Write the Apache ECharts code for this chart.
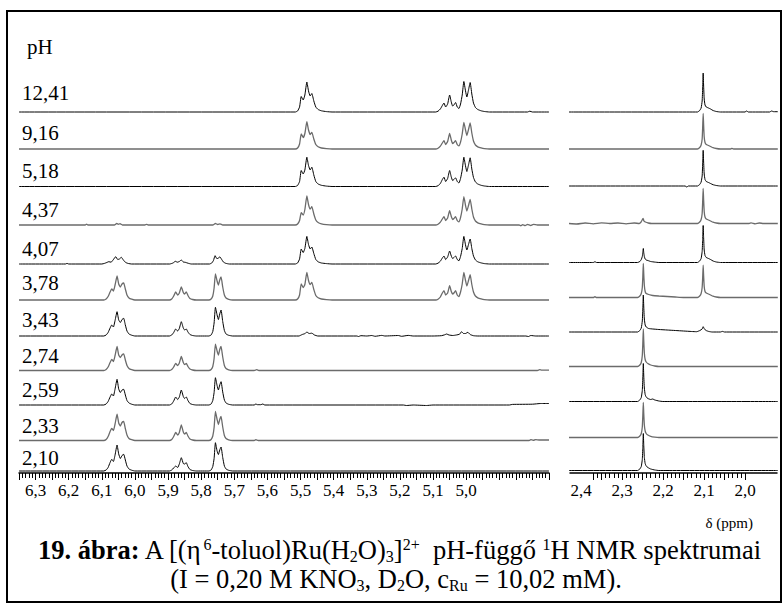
<!DOCTYPE html>
<html>
<head>
<meta charset="utf-8">
<script src="https://cdn.jsdelivr.net/npm/echarts@6/dist/echarts.min.js"></script>
<style>
  html, body { margin: 0; padding: 0; background: #fff; }
  #chart { width: 783px; height: 607px; }
</style>
</head>
<body>
<div id="chart"></div>
<script>
// ---- pH of each spectrum, top to bottom ----
const phLabels = ['12,41', '9,16', '5,18', '4,37', '4,07', '3,78', '3,43', '2,74', '2,59', '2,33', '2,10'];

// ---- tick labels ----
const ringAxisLabels = ['6,3', '6,2', '6,1', '6,0', '5,9', '5,8', '5,7', '5,6', '5,5', '5,4', '5,3', '5,2', '5,1', '5,0'];
const methylAxisLabels = ['2,4', '2,3', '2,2', '2,1', '2,0'];

// ---- ring-proton region: [delta / ppm, intensity] ----
const ring1241 = [[6.35,0],[5.516,0],[5.509,1],[5.503,5],[5.498,15.5],[5.492,12],[5.487,17],[5.481,30],[5.476,21],[5.471,16],[5.466,18.5],[5.46,11],[5.454,5],[5.447,2.5],[5.437,1.2],[5.422,0.4],[5.405,0],[5.092,0],[5.085,0.8],[5.078,3],[5.072,6.5],[5.067,9],[5.062,5],[5.056,8],[5.05,17],[5.045,10],[5.041,6],[5.037,7],[5.032,9.5],[5.027,5],[5.022,3.5],[5.017,8],[5.012,17],[5.007,30.5],[5.002,21],[4.998,15],[4.993,22],[4.988,29.5],[4.983,18],[4.978,9],[4.972,4.5],[4.965,2.5],[4.955,1.2],[4.945,0.5],[4.93,0],[4.815,0],[4.808,0.8],[4.8,0],[4.75,0]];
const ring916 = [[6.35,0],[5.516,0],[5.509,1],[5.503,5],[5.498,15],[5.492,11.5],[5.487,15.5],[5.481,27.3],[5.476,19],[5.471,14.5],[5.466,16.7],[5.46,10],[5.454,4.5],[5.447,2.2],[5.437,1],[5.422,0.4],[5.405,0],[5.092,0],[5.085,0.8],[5.078,2.8],[5.072,6],[5.067,8.3],[5.062,4.5],[5.056,7.5],[5.05,15.7],[5.045,9],[5.041,5.5],[5.037,6.5],[5.032,8.3],[5.027,4.5],[5.022,3.2],[5.017,7],[5.012,15],[5.007,26.7],[5.002,19],[4.998,13.5],[4.993,19.5],[4.988,26],[4.983,16],[4.978,8],[4.972,4],[4.965,2.2],[4.955,1.1],[4.945,0.4],[4.93,0],[4.75,0]];
const ring518 = [[6.35,0],[5.516,0],[5.509,1],[5.503,5],[5.498,16],[5.492,12.5],[5.487,16.5],[5.481,29.3],[5.476,21],[5.471,16.5],[5.466,19.3],[5.46,11.5],[5.454,5],[5.447,2.5],[5.437,1.2],[5.422,0.4],[5.405,0],[5.092,0],[5.085,0.8],[5.078,3],[5.072,7],[5.067,9.3],[5.062,5],[5.056,8],[5.05,16],[5.045,9.5],[5.041,6],[5.037,7],[5.032,8.7],[5.027,5],[5.022,3.5],[5.017,8],[5.012,16.5],[5.007,29.3],[5.002,20.5],[4.998,15],[4.993,21.5],[4.988,28.7],[4.983,17.5],[4.978,9],[4.972,4.5],[4.965,2.5],[4.955,1.2],[4.945,0.5],[4.93,0],[4.75,0]];
const ring437 = [[6.35,0],[6.15,0],[6.146,0.8],[6.142,0],[6.062,0],[6.055,1.5],[6.05,0.7],[6.045,1.3],[6.038,0],[5.97,0],[5.965,0.6],[5.96,0],[5.765,0],[5.757,1.5],[5.75,0.5],[5.743,1.2],[5.735,0],[5.516,0],[5.509,1],[5.503,4.5],[5.498,12.3],[5.492,10],[5.487,15.5],[5.481,29],[5.476,20.5],[5.471,16],[5.466,18.3],[5.46,11],[5.454,5],[5.447,2.5],[5.437,1.2],[5.422,0.4],[5.405,0],[5.092,0],[5.085,0.8],[5.078,2.8],[5.072,6],[5.067,8.3],[5.062,4.5],[5.056,7],[5.05,14.3],[5.045,8.5],[5.041,5.5],[5.037,6.5],[5.032,8.3],[5.027,4.5],[5.022,3.2],[5.017,7.5],[5.012,16],[5.007,28.3],[5.002,19.5],[4.998,14],[4.993,19.5],[4.988,25.7],[4.983,16],[4.978,8],[4.972,4],[4.965,2.2],[4.955,1.1],[4.945,0.4],[4.93,0],[4.84,0],[4.835,-0.8],[4.83,0.3],[4.822,-0.6],[4.815,0.6],[4.805,-0.5],[4.797,0.7],[4.785,0],[4.75,0]];
const ring407 = [[6.35,0],[6.21,0],[6.205,0.6],[6.2,0],[6.1,0],[6.092,0.6],[6.085,1.5],[6.079,2.3],[6.072,1.8],[6.066,4],[6.058,7.3],[6.052,4.5],[6.047,5],[6.041,6.7],[6.035,4],[6.028,1.5],[6.02,0.5],[6.01,0],[5.895,0],[5.885,1],[5.878,2.7],[5.872,1.8],[5.866,2.5],[5.86,4],[5.854,2],[5.848,1.7],[5.84,0.8],[5.83,0],[5.775,0],[5.768,1],[5.763,3.5],[5.758,8.3],[5.753,5.5],[5.749,5.5],[5.744,7.3],[5.739,5],[5.733,2],[5.726,0.7],[5.715,0],[5.516,0],[5.509,1],[5.503,5],[5.498,15],[5.492,11.5],[5.487,15.5],[5.481,27.6],[5.476,19.5],[5.471,15],[5.466,17],[5.46,10.5],[5.454,4.5],[5.447,2.2],[5.437,1],[5.422,0.4],[5.405,0],[5.092,0],[5.085,0.8],[5.078,2.8],[5.072,6],[5.067,8],[5.062,4.5],[5.056,7],[5.05,13],[5.045,8],[5.041,5.5],[5.037,6.5],[5.032,8],[5.027,4.5],[5.022,3.2],[5.017,7.5],[5.012,15.5],[5.007,27.6],[5.002,19],[4.998,14],[4.993,19.5],[4.988,25],[4.983,15.5],[4.978,8],[4.972,4],[4.965,2.2],[4.955,1.1],[4.945,0.4],[4.93,0],[4.75,0]];
const ring378 = [[6.35,0],[6.094,0],[6.087,1],[6.081,3.5],[6.075,8],[6.07,11],[6.065,9],[6.06,15],[6.054,24],[6.049,16],[6.044,13],[6.039,16],[6.034,17],[6.029,11],[6.024,5],[6.018,2],[6.01,0.8],[6,0],[5.896,0],[5.889,1],[5.883,4],[5.877,8],[5.871,5],[5.866,7],[5.86,13],[5.854,7.5],[5.85,6],[5.845,8],[5.84,4.5],[5.834,1.5],[5.826,0.5],[5.815,0],[5.777,0],[5.77,1],[5.765,4],[5.761,12],[5.757,26],[5.752,19],[5.748,15],[5.744,20],[5.74,23],[5.735,13],[5.73,5],[5.725,2],[5.717,0.7],[5.705,0],[5.516,0],[5.509,1],[5.503,5],[5.498,16],[5.492,12.5],[5.487,15.5],[5.481,27.6],[5.476,19.5],[5.471,15.5],[5.466,17.6],[5.46,10.5],[5.454,4.5],[5.447,2.2],[5.437,1],[5.422,0.4],[5.405,0],[5.092,0],[5.085,0.8],[5.078,3],[5.072,7],[5.067,9.3],[5.062,5],[5.056,7],[5.05,14.3],[5.045,8.5],[5.041,6],[5.037,7],[5.032,9.3],[5.027,5],[5.022,3.5],[5.017,8],[5.012,16],[5.007,27.7],[5.002,19.5],[4.998,14],[4.993,19.5],[4.988,25.3],[4.983,15.5],[4.978,8],[4.972,4],[4.965,2.2],[4.955,1.1],[4.945,0.4],[4.93,0],[4.75,0]];
const ring343 = [[6.35,0],[6.094,0],[6.087,1],[6.081,3.5],[6.075,8],[6.07,11],[6.065,9],[6.06,15.5],[6.054,24.3],[6.049,16],[6.044,13.5],[6.039,16.5],[6.034,17.7],[6.029,11],[6.024,5],[6.018,2],[6.01,0.8],[6,0],[5.896,0],[5.889,1],[5.883,3.5],[5.877,7],[5.871,5],[5.866,7.5],[5.86,14.3],[5.854,8],[5.85,6],[5.845,7],[5.84,4],[5.834,1.5],[5.826,0.5],[5.815,0],[5.777,0],[5.77,1],[5.765,4.5],[5.761,13],[5.757,28.7],[5.752,21],[5.748,16.5],[5.744,22],[5.74,26],[5.735,14.5],[5.73,5.5],[5.725,2],[5.717,0.7],[5.705,0],[5.505,0],[5.495,1.5],[5.486,2.5],[5.481,4],[5.474,2.5],[5.466,2.8],[5.458,1],[5.448,0],[5.33,0],[5.325,-0.5],[5.318,0.3],[5.3,0],[5.285,0.5],[5.275,-0.3],[5.255,0.6],[5.245,0],[5.205,0.5],[5.195,-0.3],[5.175,0.6],[5.16,0],[5.1,0],[5.075,0.3],[5.065,1.2],[5.059,2],[5.052,1],[5.04,0.5],[5.03,1],[5.02,1.8],[5.014,4.3],[5.008,2.5],[5.002,2.5],[4.995,3.7],[4.988,1.5],[4.978,0.3],[4.965,0],[4.82,0],[4.812,-0.5],[4.805,0.5],[4.79,0],[4.75,0]];
const ring274 = [[6.35,0],[6.094,0],[6.087,1],[6.081,3.5],[6.075,8],[6.07,11],[6.065,9],[6.06,15],[6.054,24],[6.049,15.5],[6.044,13],[6.039,15.5],[6.034,16.7],[6.029,10.5],[6.024,5],[6.018,2],[6.01,0.8],[6,0],[5.896,0],[5.889,1],[5.883,3.5],[5.877,7],[5.871,5],[5.866,7.5],[5.86,14],[5.854,8],[5.85,6],[5.845,7],[5.84,4],[5.834,1.5],[5.826,0.5],[5.815,0],[5.777,0],[5.77,1],[5.765,4],[5.761,12],[5.757,26.3],[5.752,19.5],[5.748,15.5],[5.744,21],[5.74,24],[5.735,13.5],[5.73,5],[5.725,2],[5.717,0.7],[5.705,0],[5.64,0],[5.632,0.8],[5.626,0],[4.785,0],[4.778,0.8],[4.772,0.4],[4.75,0.4]];
const ring259 = [[6.35,0],[6.094,0],[6.087,1],[6.081,3.5],[6.075,8],[6.07,11],[6.065,9],[6.06,16],[6.054,25.7],[6.049,16],[6.044,12.5],[6.039,15],[6.034,15.7],[6.029,10],[6.024,4.5],[6.018,2],[6.01,0.8],[6,0],[5.896,0],[5.889,1],[5.883,4],[5.877,8],[5.871,5.5],[5.866,8],[5.86,15],[5.854,8.5],[5.85,6.5],[5.845,8],[5.84,4.5],[5.834,1.5],[5.826,0.5],[5.815,0],[5.777,0],[5.77,1],[5.765,4.5],[5.761,12.5],[5.757,27.3],[5.752,19.5],[5.748,15],[5.744,20],[5.74,23.3],[5.735,13],[5.73,5],[5.725,2],[5.717,0.7],[5.705,0],[5.64,0],[5.635,1],[5.63,0.3],[5.62,0.3],[5.614,1],[5.608,0],[5.19,0],[5.18,-0.5],[5.16,0],[5.12,-0.5],[5.1,0],[4.87,0],[4.86,0.6],[4.8,0.8],[4.775,1.5],[4.75,1.5]];
const ring233 = [[6.35,0],[6.094,0],[6.087,1],[6.081,4],[6.075,9],[6.07,12],[6.065,10],[6.06,16.5],[6.054,26.3],[6.049,17.5],[6.044,14.5],[6.039,18],[6.034,19],[6.029,12],[6.024,5.5],[6.018,2],[6.01,0.8],[6,0],[5.896,0],[5.889,1],[5.883,4],[5.877,8],[5.871,5.5],[5.866,8],[5.86,15.7],[5.854,8.5],[5.85,6.5],[5.845,8],[5.84,4.5],[5.834,1.5],[5.826,0.5],[5.815,0],[5.777,0],[5.77,1],[5.765,4.5],[5.761,13],[5.757,29],[5.752,21],[5.748,16],[5.744,21],[5.74,24],[5.735,13.5],[5.73,5],[5.725,2],[5.717,0.7],[5.705,0],[5.64,0],[5.635,0.8],[5.628,0],[4.81,0],[4.805,0.8],[4.798,0.2],[4.79,0.8],[4.78,0.5],[4.75,0.5]];
const ring210 = [[6.35,0],[6.094,0],[6.087,1],[6.081,3.5],[6.075,8.5],[6.07,11.7],[6.065,9.5],[6.06,16],[6.054,26],[6.049,17],[6.044,12.5],[6.039,15.5],[6.034,16.7],[6.029,11],[6.024,5],[6.018,2],[6.01,0.8],[6,0],[5.896,0],[5.889,1],[5.883,3],[5.877,5],[5.871,3.5],[5.866,7],[5.86,13.3],[5.854,7.5],[5.85,7],[5.845,8.3],[5.84,4.5],[5.834,1.5],[5.826,0.5],[5.815,0],[5.777,0],[5.77,1],[5.765,4.5],[5.761,12.5],[5.757,28.3],[5.752,20],[5.748,16.5],[5.744,21],[5.74,24],[5.735,13.5],[5.73,5],[5.725,2],[5.717,0.7],[5.705,0],[4.75,0]];

// ---- methyl region: [delta / ppm, intensity] ----
const methyl1241 = [[2.43,0],[2.116,0],[2.1105,1.5],[2.107,4],[2.1045,11],[2.1032,24],[2.102,39],[2.101,27],[2.0995,13],[2.0975,7],[2.0945,5],[2.089,4],[2.084,3],[2.078,1.5],[2.07,0.5],[2.06,0],[2.0,0],[1.996,1],[1.992,0],[1.94,0],[1.935,1],[1.93,0.3],[1.92,0.3]];
const methyl916 = [[2.43,0],[2.116,0],[2.1105,1.5],[2.107,4],[2.1045,10],[2.1032,22],[2.102,35.7],[2.101,25],[2.0995,12],[2.0975,6.5],[2.0945,4.5],[2.089,3.5],[2.084,2.5],[2.078,1.3],[2.07,0.5],[2.06,0],[2.035,0],[2.032,0.7],[2.028,0],[1.92,0]];
const methyl518 = [[2.43,0],[2.146,0],[2.142,-1],[2.138,0],[2.116,0],[2.1105,1.5],[2.107,4],[2.1045,10],[2.1032,22],[2.102,35.7],[2.101,25],[2.0995,12],[2.0975,6.5],[2.0945,4.5],[2.089,3.5],[2.084,2.5],[2.078,1.3],[2.07,0.5],[2.06,0],[1.92,0]];
const methyl437 = [[2.43,0],[2.41,-0.5],[2.39,0.5],[2.37,-0.3],[2.35,0.6],[2.33,0],[2.31,0.5],[2.29,-0.3],[2.27,0.5],[2.258,0],[2.2535,1.5],[2.2485,5],[2.2465,2.5],[2.243,1.5],[2.236,0.5],[2.228,0],[2.116,0],[2.1105,1.5],[2.107,4],[2.1045,10],[2.1032,22],[2.102,35],[2.101,24.5],[2.0995,12],[2.0975,6.5],[2.0945,4.5],[2.089,3.5],[2.084,2.5],[2.078,1.3],[2.07,0.5],[2.06,0],[1.99,0],[1.985,0.6],[1.975,-0.4],[1.965,0.5],[1.955,0],[1.92,0]];
const methyl407 = [[2.43,0],[2.37,0],[2.366,0.8],[2.362,0],[2.262,0],[2.2565,1],[2.253,3],[2.2505,6],[2.2492,10],[2.248,14],[2.247,10],[2.2455,6],[2.2435,3.5],[2.241,2.5],[2.237,2],[2.23,1],[2.22,0.4],[2.21,0],[2.116,0],[2.1105,1.5],[2.107,4],[2.1045,11],[2.1032,23],[2.102,37],[2.101,26],[2.0995,12.5],[2.0975,7],[2.0945,5],[2.089,4],[2.084,3],[2.078,1.5],[2.07,0.5],[2.06,0],[1.92,0]];
const methyl378 = [[2.43,0],[2.37,0],[2.366,0.8],[2.362,0],[2.262,0],[2.2565,1.5],[2.253,4],[2.2505,10],[2.2492,21],[2.248,34],[2.247,24],[2.2455,12],[2.2435,6],[2.241,4],[2.235,3],[2.225,2],[2.21,1.5],[2.19,1],[2.17,0.5],[2.15,0],[2.116,0],[2.1105,1.5],[2.107,4],[2.1045,10],[2.1032,20],[2.102,32.3],[2.101,22.5],[2.0995,11],[2.0975,6],[2.0945,4.5],[2.089,3.5],[2.084,2.5],[2.078,1.3],[2.07,0.5],[2.06,0],[1.92,0]];
const methyl343 = [[2.43,0],[2.262,0],[2.2565,1.5],[2.253,4],[2.2505,11],[2.2492,23],[2.248,37],[2.247,26],[2.2455,13],[2.2435,7],[2.241,5],[2.235,3.5],[2.225,3],[2.21,2.5],[2.19,2],[2.17,1.5],[2.15,1],[2.13,0.5],[2.118,0.3],[2.11,1.5],[2.1045,3],[2.102,5.3],[2.099,3],[2.095,1.5],[2.088,0.5],[2.08,0],[2.06,0],[2.055,0.6],[2.05,0],[1.92,0]];
const methyl274 = [[2.43,0],[2.262,0],[2.2565,1.5],[2.253,4],[2.2505,11],[2.2492,23.5],[2.248,37.7],[2.247,26.5],[2.2455,13.5],[2.2435,7],[2.241,4.5],[2.237,3],[2.23,1.5],[2.22,0.5],[2.21,0],[1.92,0]];
const methyl259 = [[2.43,0],[2.262,0],[2.2565,1.5],[2.253,4],[2.2505,11],[2.2492,23.5],[2.248,38],[2.247,26.5],[2.2455,13.5],[2.2435,7],[2.241,4.5],[2.237,3],[2.23,2],[2.225,2.5],[2.22,1.5],[2.21,0.5],[2.2,0],[1.92,0]];
const methyl233 = [[2.43,0],[2.262,0],[2.2565,1.5],[2.253,4],[2.2505,10.5],[2.2492,22],[2.248,35],[2.247,24.5],[2.2455,12.5],[2.2435,6.5],[2.241,4],[2.237,2.5],[2.23,1.2],[2.22,0.4],[2.21,0],[1.92,0]];
const methyl210 = [[2.43,0],[2.262,0],[2.2565,1.5],[2.253,4],[2.2505,11],[2.2492,23],[2.248,37],[2.247,26],[2.2455,13],[2.2435,7],[2.241,4.5],[2.237,3],[2.23,1.5],[2.22,0.5],[2.21,0],[1.92,0]];

const ringTraces = [ring1241, ring916, ring518, ring437, ring407, ring378, ring343, ring274, ring259, ring233, ring210];
const methylTraces = [methyl1241, methyl916, methyl518, methyl437, methyl407, methyl378, methyl343, methyl274, methyl259, methyl233, methyl210];

// ---- layout ----
const W = 783, H = 607;
const AXIS_Y = 473;          // pixel row of both delta axes
const GRID_TOP = 30;
const Y_SPAN = AXIS_Y - GRID_TOP;   // y units are pixels above the axis line
// stacking offset of every trace above the axis line
const ringOffset   = [361, 324, 286.5, 248, 209, 173, 137, 102.5, 68, 32.5, 2];
const methylOffset = [361, 324, 287, 249.5, 210.5, 175.5, 141, 106.5, 71.5, 35.5, 2.5];
const labelCenterY = [92.5, 133, 170.5, 210, 249, 283, 319.5, 355.5, 390, 425.5, 457.5];
const rowColor = ['#000', '#6b6b6b', '#000', '#6b6b6b', '#000', '#6b6b6b', '#000', '#6b6b6b', '#000', '#6b6b6b', '#000'];
const rowWidth = [1, 1.3, 1, 1.3, 1, 1.3, 1, 1.3, 1, 1.3, 1];

// ring panel: 6.35 .. 4.75 ppm over x = 19 .. 549
const RING = { left: 19, width: 530, min: 4.75, max: 6.35 };
// methyl panel: 410 px per ppm, 2.4 ppm label at x = 581
const M_PX = 410, M_X24 = 581, M_LEFT = 570, M_RIGHT = 777;
const M_MAX = 2.4 + (M_X24 - M_LEFT) / M_PX;
const M_MIN = 2.4 - (M_RIGHT - M_X24) / M_PX;
const TICK_MIN = 2.0, TICK_MAX = 2.37;

const SERIF = 'Liberation Serif';
const serifStyle = size => ({ fontFamily: SERIF, fontSize: size, color: '#000', fill: '#000' });

function fmtComma(v, allowed) {
  const s = v.toFixed(1).replace('.', ',');
  const onTenth = Math.abs(v * 10 - Math.round(v * 10)) < 1e-6;
  return onTenth && allowed.includes(s) ? '{t|' + s + '}' : '';
}

const gridBottom = H - AXIS_Y;
const grids = [
  { left: RING.left, width: RING.width, top: GRID_TOP, bottom: gridBottom },
  { left: M_LEFT, width: M_RIGHT - M_LEFT, top: GRID_TOP, bottom: gridBottom },
  { left: M_X24 + (2.4 - TICK_MAX) * M_PX, width: (TICK_MAX - TICK_MIN) * M_PX, top: GRID_TOP, bottom: gridBottom },
  { left: M_X24, width: 0.4 * M_PX, top: GRID_TOP, bottom: gridBottom }
];

const tickStyle = { color: '#000', width: 1 };
const labelRich = { t: serifStyle(17) };
const xAxes = [
  {
    gridIndex: 0, type: 'value', inverse: true, min: RING.min, max: RING.max, interval: 0.05,
    axisLine: { onZero: false, lineStyle: { color: '#000', width: 1.5 } },
    axisTick: { show: true, length: 7, lineStyle: tickStyle },
    minorTick: { show: true, splitNumber: 5, length: 5, lineStyle: tickStyle },
    splitLine: { show: false }, minorSplitLine: { show: false },
    axisLabel: {
      margin: 9, fontFamily: SERIF, fontSize: 17, color: '#000',
      showMinLabel: true, showMaxLabel: true, rich: labelRich,
      formatter: v => fmtComma(v, ringAxisLabels)
    }
  },
  {
    gridIndex: 1, type: 'value', inverse: true, min: M_MIN, max: M_MAX,
    axisLine: { onZero: false, lineStyle: { color: '#000', width: 1.5 } },
    axisTick: { show: false }, axisLabel: { show: false }, splitLine: { show: false }
  },
  {
    gridIndex: 2, type: 'value', inverse: true, min: TICK_MIN, max: TICK_MAX, interval: 0.05,
    axisLine: { show: false, onZero: false },
    axisTick: { show: true, length: 7, lineStyle: tickStyle },
    minorTick: { show: true, splitNumber: 5, length: 5, lineStyle: tickStyle },
    splitLine: { show: false }, minorSplitLine: { show: false },
    axisLabel: { show: false }
  },
  {
    gridIndex: 3, type: 'value', inverse: true, min: 2.0, max: 2.4, interval: 0.1,
    axisLine: { show: false, onZero: false }, axisTick: { show: false }, splitLine: { show: false },
    axisLabel: {
      margin: 9, fontFamily: SERIF, fontSize: 17, color: '#000',
      showMinLabel: true, showMaxLabel: true, rich: labelRich,
      formatter: v => fmtComma(v, methylAxisLabels)
    }
  }
];
const yAxes = grids.map((g, i) => ({ gridIndex: i, type: 'value', min: 0, max: Y_SPAN, show: false }));

const series = [];
ringTraces.forEach((trace, i) => {
  series.push({
    type: 'line', xAxisIndex: 0, yAxisIndex: 0, symbol: 'none', silent: true, clip: false,
    smooth: 0.15, animation: false,
    lineStyle: { color: rowColor[i], width: rowWidth[i] },
    data: trace.map(p => [p[0], ringOffset[i] + p[1]])
  });
});
methylTraces.forEach((trace, i) => {
  series.push({
    type: 'line', xAxisIndex: 1, yAxisIndex: 1, symbol: 'none', silent: true, clip: false,
    smooth: 0.15, animation: false,
    lineStyle: { color: rowColor[i], width: rowWidth[i] },
    data: trace.map(p => [p[0], methylOffset[i] + p[1]])
  });
});

// ---- texts ----
const textRich = { t: serifStyle(21), s: serifStyle(15) };
const graphics = [
  { type: 'rect', shape: { x: 7, y: 11, width: 774, height: 591 },
    style: { fill: null, stroke: '#000', lineWidth: 2 }, silent: true },
  { type: 'text', x: 27, y: 47,
    style: { text: '{t|pH}', rich: textRich, verticalAlign: 'middle' } },
  { type: 'text', x: 753, y: 523,
    style: { text: '{s|δ (ppm)}', rich: textRich, align: 'right', verticalAlign: 'middle' } }
];
phLabels.forEach((lab, i) => {
  graphics.push({ type: 'text', x: 22, y: labelCenterY[i],
    style: { text: '{t|' + lab + '}', rich: textRich, verticalAlign: 'middle' } });
});

// caption: two lines, each box 28 px tall so they do not overlap;
// super- and subscripts sit in short boxes pinned to the top / bottom of the line
const capRich = {
  n:   { fontFamily: SERIF, fontSize: 26.5, lineHeight: 28, fill: '#000' },
  b:   { fontFamily: SERIF, fontSize: 26.5, lineHeight: 28, fontWeight: 'bold', fill: '#000' },
  sup: { fontFamily: SERIF, fontSize: 16, lineHeight: 10, verticalAlign: 'top', fill: '#000' },
  sub: { fontFamily: SERIF, fontSize: 16, lineHeight: 10, verticalAlign: 'bottom', fill: '#000' }
};
graphics.push({ type: 'text', x: 38, y: 550,
  style: {
    text: '{b|19. ábra:}{n| A [(η}{sup|6}{n|-toluol)Ru(H}{sub|2}{n|O)}{sub|3}{n|]}{sup|2+}{n|  pH-függő }{sup|1}{n|H NMR spektrumai}',
    rich: capRich, verticalAlign: 'middle', align: 'left'
  } });
graphics.push({ type: 'text', x: 396, y: 579,
  style: {
    text: '{n|(I = 0,20 M KNO}{sub|3}{n|, D}{sub|2}{n|O, c}{sub|Ru}{n| = 10,02 mM).}',
    rich: capRich, verticalAlign: 'middle', align: 'center'
  } });

const chart = echarts.init(document.getElementById('chart'), null, { renderer: 'svg', width: W, height: H });
chart.setOption({
  animation: false,
  backgroundColor: '#fff',
  grid: grids,
  xAxis: xAxes,
  yAxis: yAxes,
  series: series,
  graphic: graphics
});
</script>
</body>
</html>
